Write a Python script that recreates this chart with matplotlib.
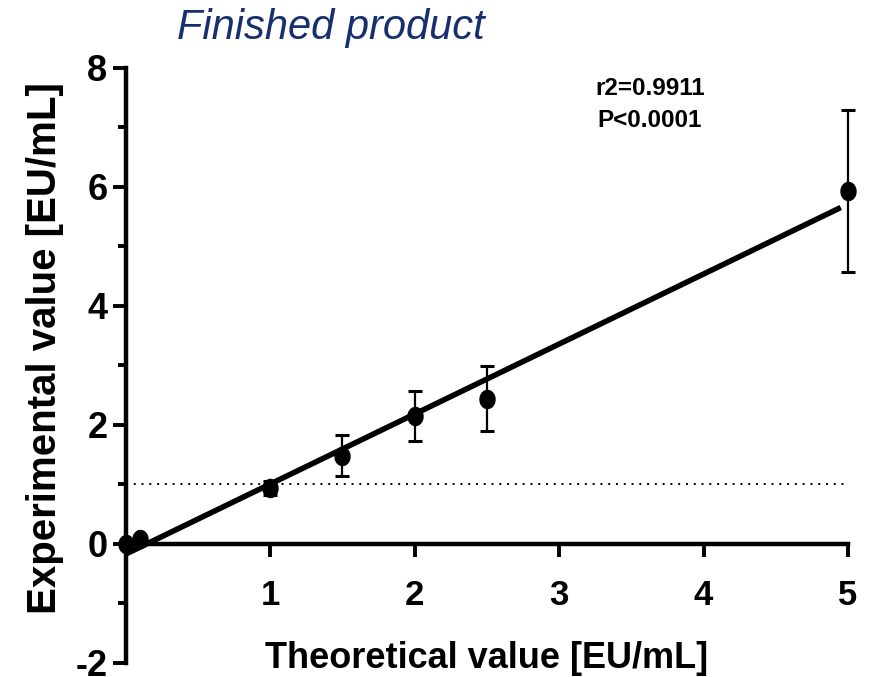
import numpy as np
import matplotlib
matplotlib.use('Agg')
import matplotlib.pyplot as plt
from matplotlib.path import Path
from matplotlib.ticker import MultipleLocator

# Spiked samples: theoretical vs measured endotoxin
theoretical = [0, 0.1, 1, 1.5, 2, 2.5, 5]
experimental = [0.0, 0.08, 0.94, 1.48, 2.14, 2.44, 5.93]
sd = [0.0, 0.0, 0.12, 0.35, 0.42, 0.55, 1.36]
limit = 1.0
stats_text = 'r2=0.9911\nP<0.0001'

plt.rcParams['axes.unicode_minus'] = False
fam = ['Liberation Sans', 'DejaVu Sans']

# slightly taller than wide marker
t = np.linspace(0, 2 * np.pi, 60)
ellipse = Path(np.column_stack([0.83 * np.cos(t), np.sin(t)]))

fig = plt.figure(figsize=(8.71, 6.77), dpi=100)
ax = fig.add_axes([0.1441, 0.0211, 0.8295, 0.8789])

# linear fit
slope, intercept = np.polyfit(theoretical, experimental, 1)
xf = np.array([0, 4.95])
ax.plot(xf, slope * xf + intercept, color='black', lw=4, solid_capstyle='butt', zorder=3)

ax.plot([0, 5], [limit, limit], color='black', lw=1.4, linestyle=(0, (1, 3)), zorder=1)

ax.errorbar(theoretical, experimental, yerr=sd, fmt='none', ecolor='black',
            elinewidth=1.6, capsize=5, capthick=2.2, zorder=4, clip_on=False)
ax.plot(theoretical, experimental, linestyle='none', marker=ellipse, markersize=13,
        color='black', zorder=5, clip_on=False)

ax.set_xlim(0, 5)
ax.set_ylim(-2, 8)
ax.spines['top'].set_visible(False)
ax.spines['right'].set_visible(False)
ax.spines['bottom'].set_position(('data', 0))
for s in ['left', 'bottom']:
    ax.spines[s].set_linewidth(3.2)
    ax.spines[s].set_capstyle('projecting')

ax.set_xticks([1, 2, 3, 4, 5])
ax.yaxis.set_major_locator(MultipleLocator(2))
ax.yaxis.set_minor_locator(MultipleLocator(1))
ax.tick_params(axis='both', which='major', length=9.5, width=2.8, direction='out')
ax.tick_params(axis='y', which='minor', length=5.5, width=2.8, direction='out')
ax.tick_params(axis='x', pad=16)
ax.tick_params(axis='y', pad=3.5)

for lab in ax.get_xticklabels():
    lab.set_fontfamily(fam)
    lab.set_fontweight('bold')
    lab.set_fontsize(25)
for lab in ax.get_yticklabels():
    lab.set_fontfamily(fam)
    lab.set_fontweight('bold')
    lab.set_fontsize(26)

fig.text(487 / 871, 1 - 668 / 677, 'Theoretical value [EU/mL]', ha='center', va='baseline',
         fontsize=26, fontweight='bold', family=fam)
fig.text(45 / 871, 1 - 348 / 677, 'Experimental value [EU/mL]', ha='center', va='center',
         rotation=90, fontsize=29, fontweight='bold', family=fam)
fig.text(331 / 871, 1 - 39 / 677, 'Finished product', ha='center', va='baseline',
         fontsize=30, style='italic', color='#172f6e', family=fam)
fig.text(650 / 871, 1 - 77 / 677, stats_text, ha='center', va='top',
         fontsize=17.5, fontweight='bold', family=fam, linespacing=1.5)

fig.savefig('out.png', dpi=100)
